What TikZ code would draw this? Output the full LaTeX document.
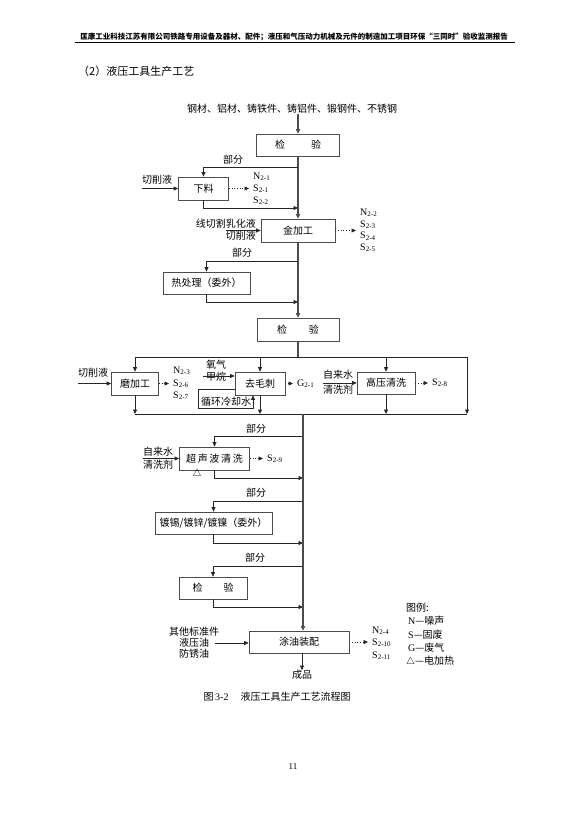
\documentclass[tikz,border=0pt]{standalone}
\usepackage{fontspec}
\setmainfont{Liberation Serif}
\newfontfamily\cjk{Noto Sans CJK SC}
\usetikzlibrary{arrows.meta}
\newcommand\pol[2]{#1\raisebox{-.3ex}{\fontsize{7}{7}\selectfont#2}}
\tikzset{
  proc/.style={draw=black!70,line width=.7pt,minimum height=22pt,inner sep=0pt,
    font=\cjk\fontsize{10}{12}\selectfont},
  zh/.style={inner sep=0pt,font=\cjk\fontsize{10}{12}\selectfont},
  emis/.style={inner sep=0pt,align=left,font=\fontsize{10}{12}\selectfont},
  flowline/.style={line width=.7pt,black!85},
  flow/.style={flowline,-{Triangle[length=4.5pt,width=4pt]}},
  mainflow/.style={flow,line width=1.1pt,black!70},
  leak/.style={flow,dotted,shorten >=4pt}
}
\begin{document}
\begin{tikzpicture}[x=1pt,y=-1pt]
  \useasboundingbox (0,0) rectangle (582,818);
  \node[inner sep=0pt,font=\cjk\bfseries\fontsize{7.5}{9}\selectfont] (hdr) at (294,37)
    {匡康工业科技江苏有限公司铁路专用设备及器材、配件；液压和气压动力机械及元件的制造加工项目环保“三同时”验收监测报告};
  \draw[line width=1pt] (75,42.5) -- (515,42.5);
  \node[zh,anchor=west,font=\cjk\fontsize{11}{13}\selectfont] (ttl) at (78,71) {（2）液压工具生产工艺};

  \node[zh] (src) at (292,109) {钢材、铝材、铸铁件、铸铝件、锻钢件、不锈钢};
  \node[proc,minimum width=83pt] (jy1) at (298,145) {检\hspace{2.6em}验};
  \node[proc,minimum width=50pt,minimum height=23pt] (xl) at (203.5,188.5) {下料};
  \node[proc,minimum width=74pt,minimum height=23pt] (jjg) at (298,230.5) {金加工};
  \node[proc,minimum width=87pt] (rcl) at (206.5,283) {热处理（委外）};
  \node[proc,minimum width=82pt,minimum height=23pt] (jy2) at (298,329.5) {检\hspace{2.2em}验};
  \node[proc,minimum width=47pt,minimum height=23pt] (mjg) at (135,383.5) {磨加工};
  \node[proc,minimum width=50pt,minimum height=23pt] (qmc) at (260,383.5) {去毛刺};
  \node[proc,minimum width=58pt] (gyqx) at (386,383) {高压清洗};
  \node[proc,minimum width=70pt,minimum height=23pt] (csb) at (214.5,458.5) {超\,声\,波\,清\,洗};
  \node[proc,minimum width=117pt] (dx) at (213.5,523) {镀锡/镀锌/镀镍（委外）};
  \node[proc,minimum width=68pt] (jy3) at (213,588) {检\hspace{2.1em}验};
  \node[proc,minimum width=100pt] (tyzp) at (299,642) {涂油装配};
  \node[zh] (cp) at (302,675) {成品};

  \draw[mainflow] (jy1.north |- src.south) -- (jy1.north);
  \draw[mainflow] (jy1.south) -- (jjg.north);
  \draw[mainflow] (jjg.south) -- (jy2.north);
  \foreach \bx/\mx/\by/\ry/\px/\py in {xl/298/167/208/233/160, rcl/298/261/302/242/253,
      csb/303/436/478/256/429, dx/303/501/543/256/493, jy3/303/566/607/255/558}{
    \coordinate (in-\bx) at (\mx,\by);
    \coordinate (out-\bx) at (\mx,\ry);
    \node[zh] (p-\bx) at (\px,\py) {部分};
    \draw[flow] (in-\bx) -| (\bx.north);
    \draw[flow] (\bx.south) |- (out-\bx);
  }

  \coordinate (tl) at (135,357);
  \coordinate (tr) at (467,357);
  \coordinate (bl) at (135,414);
  \coordinate (br) at (467,414);
  \coordinate (m0) at (303,414);
  \draw[flowline,line width=1.1pt,black!70] (jy2.south) -- (jy2.south |- tl);
  \draw[flowline] (tl) -- (tr);
  \draw[flowline] (bl) -- (br);
  \draw[flow] (tl) -- (mjg.north);
  \draw[flow] (qmc.north |- tl) -- (qmc.north);
  \draw[flow] (gyqx.north |- tl) -- (gyqx.north);
  \draw[flow] (tr) -- (br);
  \draw[flow] (mjg.south) -- (bl);
  \draw[flow] (qmc.south) -- (qmc.south |- bl);
  \draw[flow] (gyqx.south) -- (gyqx.south |- bl);
  \draw[mainflow] (m0) -- (m0 |- tyzp.north);
  \draw[flow] (tyzp.south -| cp) -- (cp.north);

  \node[zh] (in1) at (157,180) {切削液};
  \draw[flow] (xl.west -| in1.west) -- (xl.west);
  \node[zh,align=right,anchor=east] (in2) at (256,229.5) {线切割乳化液\\切削液};
  \draw[flow] (jjg.west -| in2.center) -- (jjg.west);
  \node[zh] (in3) at (93,373) {切削液};
  \draw[flow] (mjg.west -| in3.west) -- (mjg.west);
  \node[zh,align=center] (in4) at (216,370.5) {氧气\\甲烷};
  \coordinate (a4) at (203,376);
  \draw[flow] (a4) -- (a4 -| qmc.west);
  \coordinate (c1) at (198,389);
  \coordinate (c2) at (253,408);
  \draw[flow] (c1 -| qmc.west) -- (c1) |- (c2) -- (c2 |- qmc.south);
  \node[zh] (cw) at (226,401.5) {循环冷却水};
  \node[zh,align=center,font=\cjk\fontsize{10}{15}\selectfont] (in5) at (338,382.5) {自来水\\清洗剂};
  \draw[flow] (gyqx.west -| in5.west) -- (gyqx.west);
  \node[zh,align=center,font=\cjk\fontsize{10}{13}\selectfont] (in6) at (158,458) {自来水\\清洗剂};
  \draw[flow] (csb.west -| in6.west) -- (csb.west);
  \node[inner sep=0pt] (heat) at (197,473.5) {$\triangle$};
  \node[zh,align=center,font=\cjk\fontsize{10}{11}\selectfont] (in7) at (194,643) {其他标准件\\液压油\\防锈油};
  \coordinate (a7) at (215,643);
  \draw[flow] (a7) -- (a7 -| tyzp.west);

  \node[emis,anchor=west] (e1) at (253,189) {\pol{N}{2-1}\\\pol{S}{2-1}\\\pol{S}{2-2}};
  \draw[leak] (xl.east) -- (xl.east -| e1.west);
  \node[emis,anchor=west,font=\fontsize{10}{11.7}\selectfont] (e2) at (360,230.5) {\pol{N}{2-2}\\\pol{S}{2-3}\\\pol{S}{2-4}\\\pol{S}{2-5}};
  \draw[leak] (jjg.east) -- (jjg.east -| e2.west);
  \node[emis,anchor=west,font=\fontsize{10}{12.5}\selectfont] (e3) at (173,383.5) {\pol{N}{2-3}\\\pol{S}{2-6}\\\pol{S}{2-7}};
  \draw[leak] (mjg.east) -- (mjg.east -| e3.west);
  \node[emis,anchor=west] (g1) at (297,383.5) {\pol{G}{2-1}};
  \draw[leak] (qmc.east) -- (g1.west);
  \node[emis,anchor=west] (s8) at (432,383) {\pol{S}{2-8}};
  \draw[leak] (gyqx.east) -- (s8.west);
  \node[emis,anchor=west] (s9) at (267,458.5) {\pol{S}{2-9}};
  \draw[leak] (csb.east) -- (s9.west);
  \node[emis,anchor=west,font=\fontsize{10}{12.5}\selectfont] (e4) at (372,643) {\pol{N}{2-4}\\\pol{S}{2-10}\\\pol{S}{2-11}};
  \draw[leak] (tyzp.east) -- (tyzp.east -| e4.west);

  \node[zh,anchor=north west,align=left,font=\cjk\fontsize{10}{13.3}\selectfont] (lgd) at (406,603)
    {图例:\\\hspace{2pt}{\rmfamily N}—噪声\\\hspace{2pt}{\rmfamily S}—固废\\\hspace{2pt}{\rmfamily G}—废气\\$\triangle$—电加热};
  \node[zh] (cap) at (277,697) {图\,{\rmfamily 3-2}\hspace{1.2em}液压工具生产工艺流程图};
  \node[inner sep=0pt,font=\fontsize{9}{10}\selectfont] (pg) at (293,767) {11};
\end{tikzpicture}
\end{document}
